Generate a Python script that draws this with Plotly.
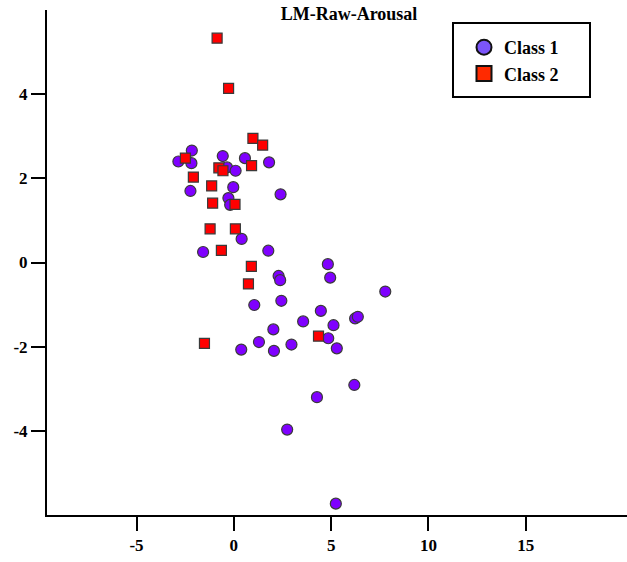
import plotly.graph_objects as go

# Class 1 points (x, y)
class1_x = [-2.16, -2.85, -2.18, -0.57, 0.57, 1.81, -0.35, 0.09, -0.03, -2.23,
            2.40, -0.28, -0.19, 0.40, -1.58, 1.77, 4.83, 2.30, 2.38, 4.95,
            7.78, 1.05, 2.44, 4.47, 3.56, 5.12, 6.23, 6.37, 2.03, 4.85,
            1.29, 2.96, 0.38, 2.06, 5.29, 6.19, 4.27, 2.74, 5.24]
class1_y = [2.66, 2.40, 2.36, 2.53, 2.48, 2.38, 2.26, 2.18, 1.79, 1.70,
            1.62, 1.53, 1.37, 0.56, 0.25, 0.28, -0.04, -0.32, -0.42, -0.36,
            -0.69, -1.01, -0.91, -1.15, -1.40, -1.49, -1.33, -1.29, -1.59, -1.80,
            -1.89, -1.95, -2.07, -2.10, -2.04, -2.91, -3.20, -3.97, -5.73]

# Class 2 points (x, y)
class2_x = [-0.86, -0.27, 0.98, 1.48, -2.49, -0.77, -0.56, 0.91, -2.08, -1.14,
            -1.09, 0.06, -1.22, 0.08, -0.64, 0.90, 0.75, -1.51, 4.35]
class2_y = [5.33, 4.14, 2.95, 2.79, 2.48, 2.25, 2.18, 2.30, 2.03, 1.82,
            1.41, 1.38, 0.80, 0.80, 0.29, -0.09, -0.51, -1.92, -1.75]

x_ticks = [-5, 0, 5, 10, 15]
x_tick_labels = ["-5", "0", "5", "10", "15"]
y_ticks = [-4, -2, 0, 2, 4]
y_tick_labels = ["-4", "-2", "0", "2", "4"]

FONT = "Liberation Serif"
W, H = 627, 562
L, R, T, B = 47, 0, 10, 47

fig = go.Figure()
fig.add_trace(go.Scatter(
    x=class1_x, y=class1_y, mode="markers", name="Class 1", showlegend=False,
    marker=dict(symbol="circle", size=11, color="#7F00FF",
                line=dict(color="#3a3a3a", width=1.2)),
))
fig.add_trace(go.Scatter(
    x=class2_x, y=class2_y, mode="markers", name="Class 2", showlegend=False,
    marker=dict(symbol="square", size=10, color="#FF0000",
                line=dict(color="#3a3a3a", width=1.2)),
))

# legend swatches (larger symbols than the plotted markers)
fig.add_trace(go.Scatter(
    x=[None], y=[None], mode="markers", name="Class 1",
    marker=dict(symbol="circle", size=15, color="#7B55FA",
                line=dict(color="#111111", width=2)),
))
fig.add_trace(go.Scatter(
    x=[None], y=[None], mode="markers", name="Class 2",
    marker=dict(symbol="square", size=15, color="#FF2A00",
                line=dict(color="#111111", width=2)),
))

axis_common = dict(
    showgrid=False, zeroline=False, showline=True, linecolor="black", linewidth=2,
    ticks="outside", ticklen=14, tickwidth=2, tickcolor="black",
    tickfont=dict(family=FONT, size=17, color="black", weight="bold"),
)

pw, ph = W - L - R, H - T - B

def px_x(p):
    return (p - L) / pw

def px_y(p):
    return 1 - (p - T) / ph

fig.update_layout(
    width=W, height=H,
    margin=dict(l=L, r=R, t=T, b=B),
    paper_bgcolor="white", plot_bgcolor="white",
    title=dict(text="<b>LM-Raw-Arousal</b>", x=349 / W, xanchor="center",
               y=1 - 14 / H, yanchor="middle",
               font=dict(family=FONT, size=18, color="black")),
    xaxis=dict(range=[-9.6, 20.2], tickvals=x_ticks, ticktext=x_tick_labels, **axis_common),
    yaxis=dict(range=[-6, 6], tickvals=y_ticks, ticktext=y_tick_labels, **axis_common),
    legend=dict(x=px_x(464), y=px_y(29), xanchor="left", yanchor="top",
                borderwidth=0, bgcolor="rgba(0,0,0,0)",
                font=dict(family=FONT, size=18, color="black", weight="bold"),
                itemsizing="trace"),
    shapes=[dict(type="rect", xref="paper", yref="paper",
                 x0=px_x(453), x1=px_x(590), y0=px_y(97), y1=px_y(23),
                 line=dict(color="black", width=2), fillcolor="white", layer="below")],
    showlegend=True,
)

fig.write_html("out.html")
